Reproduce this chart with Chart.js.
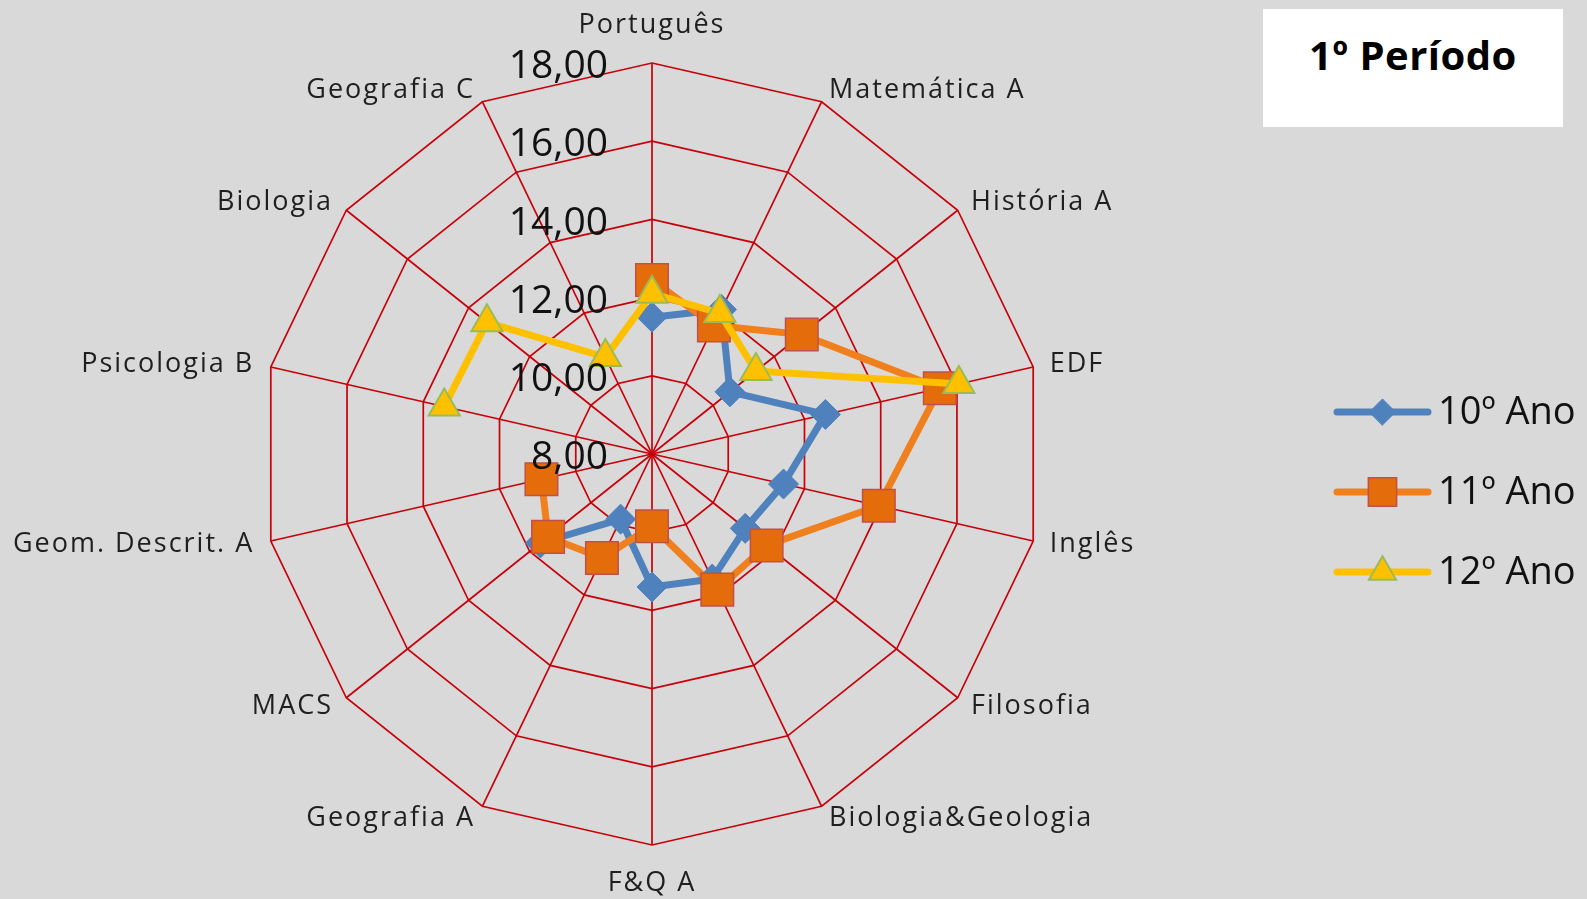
<!DOCTYPE html>
<html lang="pt">
<head>
<meta charset="utf-8">
<title>1º Período</title>
<script src="https://cdn.jsdelivr.net/npm/chart.js@4.4.1/dist/chart.umd.min.js"></script>
<style>
  html, body { margin: 0; padding: 0; background: #d9d9d9; }
  #wrap { position: relative; width: 1587px; height: 899px; }
  #titleBox { position: absolute; left: 1263px; top: 9px; width: 300px; height: 118px; background: #fff; }
  #titleBox span { position: absolute; left: 0; right: 0; top: 18px; line-height: 50px; text-align: center;
    font: bold 40px "Open Sans", sans-serif; color: #000; letter-spacing: 0.5px; }
</style>
</head>
<body>
<div id="wrap">
  <canvas id="radarChart" width="1587" height="899"></canvas>
  <div id="titleBox"><span>1º Período</span></div>
</div>
<script>
// Disciplinas (sentido horário a partir do topo)
const categories = ['Português', 'Matemática A', 'História A', 'EDF', 'Inglês', 'Filosofia',
  'Biologia&Geologia', 'F&Q A', 'Geografia A', 'MACS', 'Geom. Descrit. A', 'Psicologia B',
  'Biologia', 'Geografia C'];
const seriesNames = ['10º Ano', '11º Ano', '12º Ano'];
const ano10 = [11.5, 12.1, 10.55, 12.55, 11.45, 11.05, 11.55, 11.4, 9.85, 11.65, null, null, null, null];
const ano11 = [12.45, 11.65, 12.9, 15.55, 13.95, 11.75, 11.85, 9.85, 10.95, 11.4, 10.9, null, null, null];
const ano12 = [12.1, 12.0, 11.4, 16.05, null, null, null, null, null, null, null, 13.45, 13.4, 10.75];
const tickValues = [8, 10, 12, 14, 16, 18];

const fmt = v => v.toFixed(2).replace('.', ',');
const gridRed = '#c8000a';

// valores do eixo, à esquerda do eixo vertical
const tickLabels = {
  id: 'tickLabels',
  afterDatasetsDraw(chart) {
    const scale = chart.scales.r;
    const ctx = chart.ctx;
    ctx.save();
    ctx.font = '39px "Open Sans", sans-serif';
    ctx.fillStyle = '#111';
    ctx.textAlign = 'right';
    ctx.textBaseline = 'middle';
    scale.ticks.forEach(t => {
      const d = scale.getDistanceFromCenterForValue(t.value);
      ctx.fillText(fmt(t.value), scale.xCenter - 44, scale.yCenter - d + 4);
    });
    ctx.restore();
  }
};

// nomes das disciplinas junto aos vértices
const pointNames = {
  id: 'pointNames',
  afterDraw(chart) {
    const scale = chart.scales.r;
    const ctx = chart.ctx;
    ctx.save();
    ctx.font = '27px "Open Sans", sans-serif';
    ctx.letterSpacing = '2px';
    ctx.fillStyle = '#1f1f1f';
    ctx.textBaseline = 'middle';
    chart.data.labels.forEach((label, i) => {
      const p = scale.getPointPosition(i, scale.drawingArea);
      const a = scale.getIndexAngle(i);
      const s = Math.sin(a), c = Math.cos(a);
      let x = p.x, y = p.y;
      if (Math.abs(s) < 0.01) {
        ctx.textAlign = 'center';
        y += c > 0 ? -38 : 38;
      } else {
        ctx.textAlign = s > 0 ? 'left' : 'right';
        x += 17 * s;
        y -= 13 * c;
      }
      ctx.fillText(label, x, y);
    });
    ctx.restore();
  }
};

// legenda com linha + marcador, como no Excel
const lineLegend = {
  id: 'lineLegend',
  afterDraw(chart) {
    const ctx = chart.ctx;
    const x0 = 1337, x1 = 1428, tx = 1438;
    const ys = [412, 492, 572];
    chart.data.datasets.forEach((ds, i) => {
      const y = ys[i];
      ctx.save();
      ctx.strokeStyle = ds.borderColor;
      ctx.lineWidth = ds.borderWidth;
      ctx.lineCap = 'round';
      ctx.beginPath();
      ctx.moveTo(x0, y);
      ctx.lineTo(x1, y);
      ctx.stroke();
      ctx.fillStyle = ds.pointBackgroundColor;
      ctx.strokeStyle = ds.pointBorderColor;
      ctx.lineWidth = ds.pointBorderWidth;
      Chart.helpers.drawPoint(ctx, {
        pointStyle: ds.pointStyle, radius: ds.pointRadius * 0.87, rotation: 0, borderWidth: ds.pointBorderWidth
      }, (x0 + x1) / 2, y);
      ctx.font = '38px "Open Sans", sans-serif';
      ctx.fillStyle = '#111';
      ctx.textAlign = 'left';
      ctx.textBaseline = 'middle';
      ctx.fillText(ds.label, tx, y + 1);
      ctx.restore();
    });
  }
};

const ctx = document.getElementById('radarChart').getContext('2d');
const radarChart = new Chart(ctx, {
  type: 'radar',
  data: {
    labels: categories,
    datasets: [{
      label: seriesNames[0],
      data: ano10,
      borderColor: '#4f81bd',
      borderWidth: 7,
      fill: false,
      pointStyle: 'rectRot',
      pointRadius: 15,
      pointBackgroundColor: '#4f81bd',
      pointBorderColor: '#4f81bd',
      pointBorderWidth: 1,
      order: 3
    }, {
      label: seriesNames[1],
      data: ano11,
      borderColor: '#f07f1e',
      borderWidth: 7,
      fill: false,
      pointStyle: 'rect',
      pointRadius: 23,
      pointBackgroundColor: '#e46c0a',
      pointBorderColor: '#c0504d',
      pointBorderWidth: 1.5,
      order: 2
    }, {
      label: seriesNames[2],
      data: ano12,
      borderColor: '#ffc000',
      borderWidth: 7,
      fill: false,
      pointStyle: 'triangle',
      pointRadius: 18,
      pointBackgroundColor: '#ffc000',
      pointBorderColor: '#9bbb59',
      pointBorderWidth: 2,
      order: 1
    }]
  },
  options: {
    responsive: false,
    animation: false,
    layout: { padding: { left: 261, right: 544, top: 63, bottom: 54 } },
    elements: { line: { borderJoinStyle: 'round', borderCapStyle: 'round', tension: 0 } },
    scales: {
      r: {
        min: tickValues[0],
        max: tickValues[tickValues.length - 1],
        ticks: { display: false, stepSize: tickValues[1] - tickValues[0] },
        pointLabels: { display: false },
        grid: { color: gridRed, lineWidth: 1.7 },
        angleLines: { color: gridRed, lineWidth: 1.7 }
      }
    },
    plugins: {
      legend: { display: false },
      tooltip: { enabled: false }
    }
  },
  plugins: [tickLabels, pointNames, lineLegend]
});
</script>
</body>
</html>
